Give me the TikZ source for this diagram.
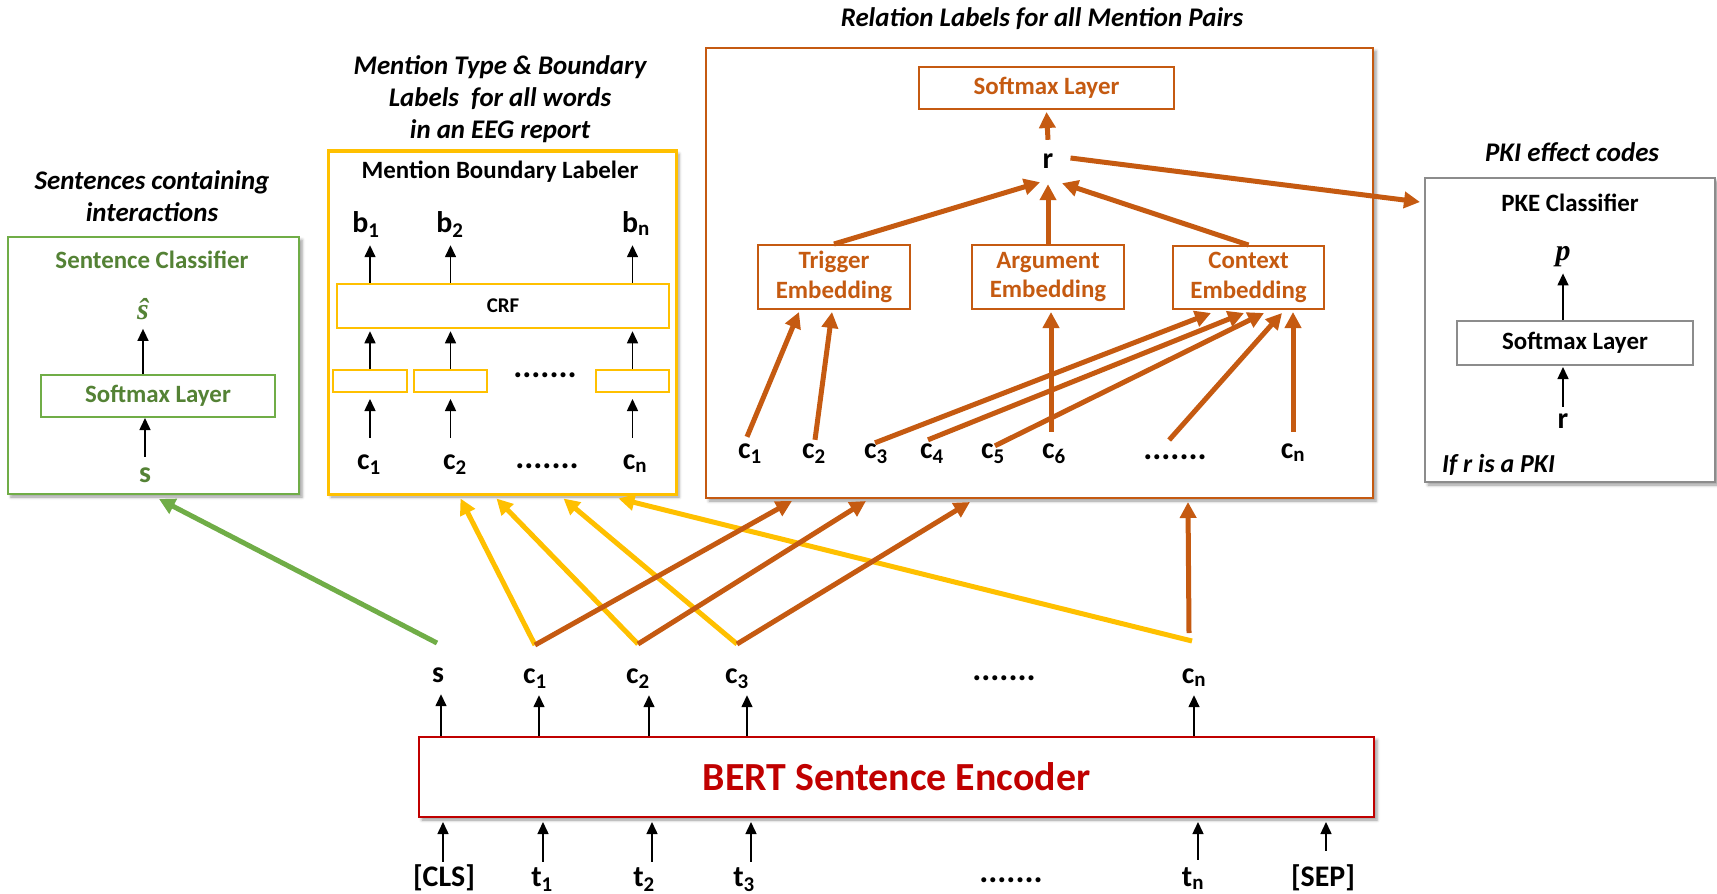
\documentclass[tikz,border=0pt]{standalone}
\usepackage{fontspec}
\setmainfont{Carlito}
\newfontfamily\symserif{Liberation Serif}
\usetikzlibrary{arrows.meta,calc,shadows.blur}
\definecolor{gAcc}{HTML}{70AD47}
\definecolor{gTxt}{HTML}{548235}
\definecolor{yAcc}{HTML}{FFC000}
\definecolor{oAcc}{HTML}{C55A11}
\definecolor{rAcc}{HTML}{C00000}
\definecolor{grayB}{HTML}{8C8C8C}

\begin{document}
\begin{tikzpicture}[x=1bp,y=-1bp,
  every node/.style={font=\bfseries},
  frame/.style={draw, line width=2bp, inner sep=0, fill=white},
  boxshadow/.style={blur shadow={shadow xshift=3bp, shadow yshift=-3bp, shadow blur radius=3bp, shadow opacity=40}},
  ttl/.style={font=\fontsize{27}{32}\selectfont\bfseries\itshape, align=center},
  hdr/.style={font=\fontsize{25}{30}\selectfont\bfseries},
  sym/.style={font=\fontsize{30}{36}\selectfont\bfseries, inner sep=1bp, text height=20bp, text depth=8bp, anchor=base},
  dots/.style={font=\fontsize{34}{40}\selectfont\bfseries, inner sep=0, anchor=base},
  mvar/.style={font=\fontsize{30}{36}\selectfont\symserif\bfseries\itshape, inner sep=1bp},
  thin/.style={line width=1.5bp, -{Triangle[length=12bp,width=11bp]}},
  fat/.style={line width=5bp, -{Triangle[length=16bp,width=16bp]}},
]
\useasboundingbox (0,0) rectangle (1717,893);

% ---------- Sentence classifier ----------
\node[frame, draw=gAcc, minimum width=291bp, minimum height=257bp, boxshadow] (sc) at (153.5,365.5) {};
\node[ttl] (scT) at (152,196) {Sentences containing\\interactions};
\node[hdr, text=gTxt] (scH) at (152,260) {Sentence Classifier};
\node[frame, draw=gAcc, minimum width=234bp, minimum height=42bp, hdr, text=gTxt] (scSm) at (158,396) {Softmax Layer};
\node[mvar, text=gTxt] (shat) at (143,309) {ŝ};
\node[sym, text=gTxt] (sIn) at (145,482) {s};
\draw[thin] (scSm.north -| shat) -- ($(shat.south)+(0,8)$);
\draw[thin] ($(sIn.north)+(0,-4)$) -- (sIn.north |- scSm.south);

% ---------- Mention boundary labeler ----------
\node[frame, draw=yAcc, line width=3bp, minimum width=348bp, minimum height=343bp, boxshadow] (mb) at (502,322.5) {};
\node[ttl] (mbT) at (500,99.5) {Mention Type \& Boundary\\Labels\ \ for all words\\in an EEG report};
\node[hdr] (mbH) at (500,172) {Mention Boundary Labeler};
\node[frame, draw=yAcc, line width=2.5bp, minimum width=332bp, minimum height=44bp, font=\fontsize{21}{25}\selectfont\bfseries] (crf) at (503,306) {CRF};
\node[frame, draw=yAcc, minimum width=74bp, minimum height=22bp] (h1) at (370,381) {};
\node[frame, draw=yAcc, minimum width=73bp, minimum height=22bp] (h2) at (450.5,381) {};
\node[frame, draw=yAcc, minimum width=73bp, minimum height=22bp] (hn) at (632.5,381) {};
\node[dots] (hd) at (545,377) {.......};
\node[sym] (b1) at (366,232) {b\textsubscript{1}};
\node[sym] (b2) at (450,232) {b\textsubscript{2}};
\node[sym] (bn) at (636,232) {b\textsubscript{n}};
\node[sym] (mc1) at (369,469) {c\textsubscript{1}};
\node[sym] (mc2) at (455,469) {c\textsubscript{2}};
\node[dots] (md) at (547,468) {.......};
\node[sym] (mcn) at (635,469) {c\textsubscript{n}};
\foreach \b/\h/\c in {b1/h1/mc1, b2/h2/mc2, bn/hn/mcn}{
  \draw[thin] (crf.north -| \h) -- ($(\b.south -| \h)+(0,4)$);
  \draw[thin] (\h.north) -- ($(\h.north |- crf.south)+(0,2)$);
  \draw[thin] ($(\c.north -| \h)+(0,-10)$) -- ($(\h.south)+(0,6)$);
}

% ---------- Relation classifier ----------
\node[frame, draw=oAcc, minimum width=667bp, minimum height=450bp, boxshadow] (rb) at (1039.5,273) {};
\node[ttl] (rbT) at (1042,19) {Relation Labels for all Mention Pairs};
\node[frame, draw=oAcc, minimum width=255bp, minimum height=42bp, hdr, text=oAcc] (rsm) at (1046.5,88) {Softmax Layer};
\node[sym] (r) at (1048,168) {r};
\node[frame, draw=oAcc, minimum width=152bp, minimum height=64bp, hdr, text=oAcc, align=center] (trg) at (834,277) {Trigger\\Embedding};
\node[frame, draw=oAcc, minimum width=152bp, minimum height=64bp, hdr, text=oAcc, align=center] (arg) at (1048,277) {Argument\\Embedding};
\node[frame, draw=oAcc, minimum width=151bp, minimum height=63bp, hdr, text=oAcc, align=center] (ctx) at (1248.5,277.5) {Context\\Embedding};
\node[sym] (rc1) at (750,458) {c\textsubscript{1}};
\node[sym] (rc2) at (814,458) {c\textsubscript{2}};
\node[sym] (rc3) at (876,458) {c\textsubscript{3}};
\node[sym] (rc4) at (932,458) {c\textsubscript{4}};
\node[sym] (rc5) at (993,458) {c\textsubscript{5}};
\node[sym] (rc6) at (1054,458) {c\textsubscript{6}};
\node[dots] (rd) at (1175,459) {.......};
\node[sym] (rcn) at (1293,458) {c\textsubscript{n}};

\draw[fat, color=oAcc] ($(r.north)+(0,-7)$) -- ($(rsm.south)+(0,2)$);
\draw[fat, color=oAcc] (trg.north) -- ($(r.south)+(-8,5)$);
\draw[fat, color=oAcc] (arg.north) -- ($(r.south)+(0,7)$);
\draw[fat, color=oAcc] (ctx.north) -- ($(r.south)+(14,6)$);
\draw[fat, color=oAcc] ($(rc1.north)+(-3,0)$) -- ($(trg.south west)+(42,2)$);
\draw[fat, color=oAcc] ($(rc2.north)+(1,3)$) -- ($(trg.south west)+(75,2)$);
\draw[fat, color=oAcc] ($(rc3.north)+(-1,6)$) -- ($(ctx.south west)+(39,3)$);
\draw[fat, color=oAcc] ($(rc4.north)+(-4,3)$) -- ($(ctx.south west)+(72,3)$);
\draw[fat, color=oAcc] ($(rc5.north)+(2,9)$) -- ($(ctx.south west)+(92,3)$);
\draw[fat, color=oAcc] ($(rc6.north)+(-3,-5)$) -- ($(rc6.north |- arg.south)+(-3,2)$);
\draw[fat, color=oAcc] ($(rd.base west)+(26,-19)$) -- ($(ctx.south west)+(110,3)$);
\draw[fat, color=oAcc] ($(rcn.north)+(0,-5)$) -- ($(rcn.north |- ctx.south)+(0,2)$);

% ---------- PKE classifier ----------
\node[frame, draw=grayB, minimum width=290bp, minimum height=304bp, boxshadow] (pke) at (1570,330) {};
\node[ttl] (pkeT) at (1572,152) {PKI effect codes};
\node[hdr] (pkeH) at (1570,203) {PKE Classifier};
\node[mvar] (p) at (1563,257) {p};
\node[frame, draw=grayB, minimum width=236bp, minimum height=44bp, hdr] (psm) at (1575,343) {Softmax Layer};
\node[sym] (pr) at (1563,428) {r};
\node[font=\fontsize{26}{31}\selectfont\bfseries\itshape, anchor=base west, inner sep=0] (pcond) at (1442,472) {If r is a PKI};
\draw[thin] (psm.north -| p) -- ($(p.south)+(0,5)$);
\draw[thin] (pr.north) -- ($(pr.north |- psm.south)+(0,1)$);
\draw[fat, color=oAcc] ($(r.east)+(16,-4)$) -- ($(pke.north west)+(-4,25)$);

% ---------- BERT encoder ----------
\node[frame, draw=rAcc, minimum width=955bp, minimum height=80bp, boxshadow, font=\fontsize{40}{48}\selectfont\bfseries, text=rAcc] (bert) at (896.5,777) {BERT Sentence Encoder};

\node[sym] (oS) at (438,682) {s};
\node[sym] (oC1) at (535,683) {c\textsubscript{1}};
\node[sym] (oC2) at (638,683) {c\textsubscript{2}};
\node[sym] (oC3) at (737,683) {c\textsubscript{3}};
\node[dots] (oD) at (1004,680) {.......};
\node[sym] (oCn) at (1194,683) {c\textsubscript{n}};
\foreach \n/\dx in {oS/3, oC1/4, oC2/11, oC3/10, oCn/0}{
  \draw[thin] ($(bert.north -| \n)+(\dx,0)$) -- ($(\n.south)+(\dx,3)$);
}

\node[sym] (tCls) at (444,886) {[CLS]};
\node[sym] (t1) at (542,886) {t\textsubscript{1}};
\node[sym] (t2) at (644,886) {t\textsubscript{2}};
\node[sym] (t3) at (744,886) {t\textsubscript{3}};
\node[dots] (tD) at (1011,882) {.......};
\node[sym] (tn) at (1193,886) {t\textsubscript{n}};
\node[sym] (tSep) at (1323,886) {[SEP]};
\foreach \n/\dx/\dy in {tCls/-1/-3, t1/1/-3, t2/8/-3, t3/7/-3, tn/5/-5, tSep/3/-14}{
  \draw[thin] ($(\n.north)+(\dx,\dy)$) -- ($(bert.south -| \n)+(\dx,4)$);
}

% ---------- links from the encoder outputs ----------
\coordinate (jS) at (437,643);
\coordinate (j1) at (535,645);
\coordinate (j2) at (638,644);
\coordinate (j3) at (737,644);
\coordinate (jn) at (1192,641);
\coordinate (jnO) at (1189,633);

\draw[fat, color=gAcc] (jS) -- ($(sc.south west)+(152,4)$);

\draw[fat, color=yAcc] (j1) -- ($(mb.south west)+(134,3)$);
\draw[fat, color=yAcc] (j2) -- ($(mb.south west)+(170,3)$);
\draw[fat, color=yAcc] (j3) -- ($(mb.south west)+(237,3)$);
\draw[fat, color=yAcc] (jn) -- ($(mb.south west)+(292,3)$);

\draw[fat, color=oAcc] (j1) -- ($(rb.south west)+(87,2)$);
\draw[fat, color=oAcc] (j2) -- ($(rb.south west)+(161,2)$);
\draw[fat, color=oAcc] (j3) -- ($(rb.south west)+(265,3)$);
\draw[fat, color=oAcc] (jnO) -- ($(rb.south west)+(483,3)$);

\end{tikzpicture}
\end{document}
